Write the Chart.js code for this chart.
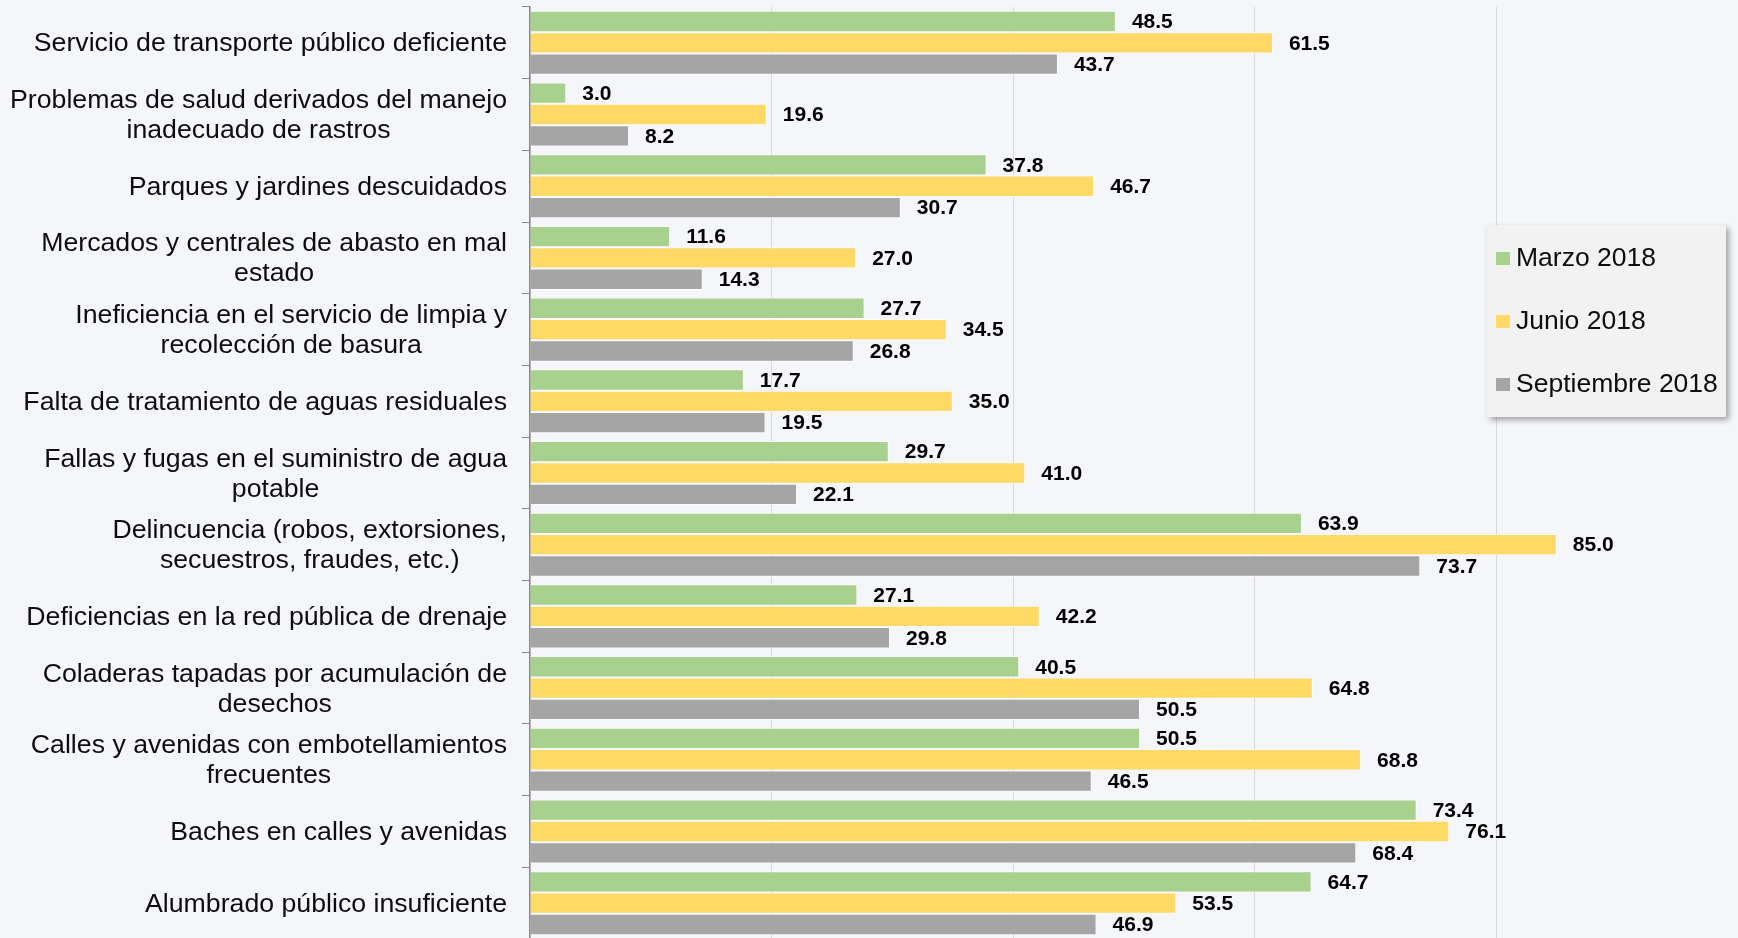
<!DOCTYPE html>
<html lang="es">
<head>
<meta charset="utf-8">
<title>Problemas en la ciudad</title>
<script src="https://cdn.jsdelivr.net/npm/chart.js@4.4.1/dist/chart.umd.min.js"></script>
<style>
    html, body {
        margin: 0;
        padding: 0;
        background: #f5f6fa;
        overflow: hidden;
    }
    #wrap {
        position: absolute;
        left: 0;
        top: 0;
        width: 1738px;
        height: 939px;
    }
</style>
</head>
<body>
<div id="wrap"><canvas id="problemsChart"></canvas></div>
<script>
const categories = [
    'Servicio de transporte público deficiente',
    ['Problemas de salud derivados del manejo', 'inadecuado de rastros'],
    'Parques y jardines descuidados',
    ['Mercados y centrales de abasto en mal', 'estado'],
    ['Ineficiencia en el servicio de limpia y', 'recolección de basura'],
    'Falta de tratamiento de aguas residuales',
    ['Fallas y fugas en el suministro de agua', 'potable'],
    ['Delincuencia (robos, extorsiones,', 'secuestros, fraudes, etc.)'],
    'Deficiencias en la red pública de drenaje',
    ['Coladeras tapadas por acumulación de', 'desechos'],
    ['Calles y avenidas con embotellamientos', 'frecuentes'],
    'Baches en calles y avenidas',
    'Alumbrado público insuficiente'
];

const seriesNames = ['Marzo 2018', 'Junio 2018', 'Septiembre 2018'];

const marzo = [48.5, 3.0, 37.8, 11.6, 27.7, 17.7, 29.7, 63.9, 27.1, 40.5, 50.5, 73.4, 64.7];
const junio = [61.5, 19.6, 46.7, 27.0, 34.5, 35.0, 41.0, 85.0, 42.2, 64.8, 68.8, 76.1, 53.5];
const septiembre = [43.7, 8.2, 30.7, 14.3, 26.8, 19.5, 22.1, 73.7, 29.8, 50.5, 46.5, 68.4, 46.9];

const xTicks = [0, 20, 40, 60, 80, 100];

const FONT = '"Liberation Sans", Arial, sans-serif';
const colors = ['#a9d18e', '#ffd966', '#a5a5a5'];

Chart.defaults.font.family = FONT;

// value labels at the end of each bar
const valueLabels = {
    id: 'valueLabels',
    afterDatasetsDraw(chart) {
        const ctx = chart.ctx;
        ctx.save();
        ctx.font = 'bold 21px ' + FONT;
        ctx.fillStyle = '#000000';
        ctx.textAlign = 'left';
        ctx.textBaseline = 'middle';
        chart.data.datasets.forEach((ds, i) => {
            chart.getDatasetMeta(i).data.forEach((bar, j) => {
                ctx.fillText(ds.data[j].toFixed(1), bar.x + 16, bar.y + 1);
            });
        });
        ctx.restore();
    }
};

// category names: right edge fixed, wrapped lines centred on each other
const categoryLabels = {
    id: 'categoryLabels',
    afterDraw(chart) {
        const ctx = chart.ctx;
        const yScale = chart.scales.y;
        const rightEdge = yScale.right - 23;
        const lineHeight = 30;
        ctx.save();
        ctx.font = '26.7px ' + FONT;
        ctx.fillStyle = '#0d0d0d';
        ctx.textAlign = 'center';
        ctx.textBaseline = 'alphabetic';
        chart.data.labels.forEach((label, i) => {
            const lines = Array.isArray(label) ? label : [label];
            const widest = Math.max(...lines.map(l => ctx.measureText(l).width));
            const cx = rightEdge - widest / 2;
            const center = yScale.getPixelForTick(i);
            lines.forEach((line, k) => {
                const y = center + 8.5 + (k - (lines.length - 1) / 2) * lineHeight;
                ctx.fillText(line, cx, y);
            });
        });
        ctx.restore();
    }
};

// legend box floating over the right part of the plot
const floatingLegend = {
    id: 'floatingLegend',
    afterDraw(chart) {
        const ctx = chart.ctx;
        const box = { x: 1487, y: 225, w: 239, h: 192 };
        ctx.save();
        ctx.shadowColor = 'rgba(0, 0, 0, 0.35)';
        ctx.shadowBlur = 6;
        ctx.shadowOffsetX = 3;
        ctx.shadowOffsetY = 3;
        ctx.fillStyle = '#f2f2f2';
        ctx.fillRect(box.x, box.y, box.w, box.h);
        ctx.restore();

        ctx.save();
        ctx.font = '26.5px ' + FONT;
        ctx.textAlign = 'left';
        ctx.textBaseline = 'alphabetic';
        chart.data.datasets.forEach((ds, i) => {
            const baseline = box.y + 41 + i * 63;
            ctx.fillStyle = ds.backgroundColor;
            ctx.fillRect(box.x + 9, baseline - 14, 14, 13);
            ctx.fillStyle = '#0d0d0d';
            ctx.fillText(ds.label, box.x + 29, baseline);
        });
        ctx.restore();
    }
};

function makeDataset(label, data, color) {
    return {
        label: label,
        data: data,
        backgroundColor: color,
        borderColor: 'rgba(255, 255, 255, 0.7)',
        borderWidth: 1,
        borderSkipped: 'start',
        categoryPercentage: 0.893,
        barPercentage: 1.0
    };
}

const ctx = document.getElementById('problemsChart').getContext('2d');

new Chart(ctx, {
    type: 'bar',
    data: {
        labels: categories,
        datasets: [
            makeDataset(seriesNames[0], marzo, colors[0]),
            makeDataset(seriesNames[1], junio, colors[1]),
            makeDataset(seriesNames[2], septiembre, colors[2])
        ]
    },
    options: {
        indexAxis: 'y',
        responsive: true,
        maintainAspectRatio: false,
        animation: false,
        layout: {
            padding: { top: 7, right: 0, bottom: 0, left: 0 }
        },
        plugins: {
            legend: { display: false },
            tooltip: { enabled: false }
        },
        scales: {
            x: {
                min: xTicks[0],
                max: xTicks[xTicks.length - 1],
                afterBuildTicks: scale => {
                    scale.ticks = xTicks.map(v => ({ value: v }));
                },
                ticks: { display: false },
                grid: {
                    color: '#d9d9d9',
                    lineWidth: 1,
                    drawTicks: false
                },
                border: { display: false }
            },
            y: {
                afterFit: scale => {
                    scale.width = 530;
                },
                ticks: { display: false },
                grid: {
                    offset: true,
                    drawOnChartArea: false,
                    tickLength: 8,
                    color: '#898989'
                },
                border: { color: '#898989', width: 1.5 }
            }
        }
    },
    plugins: [valueLabels, categoryLabels, floatingLegend]
});
</script>
</body>
</html>
